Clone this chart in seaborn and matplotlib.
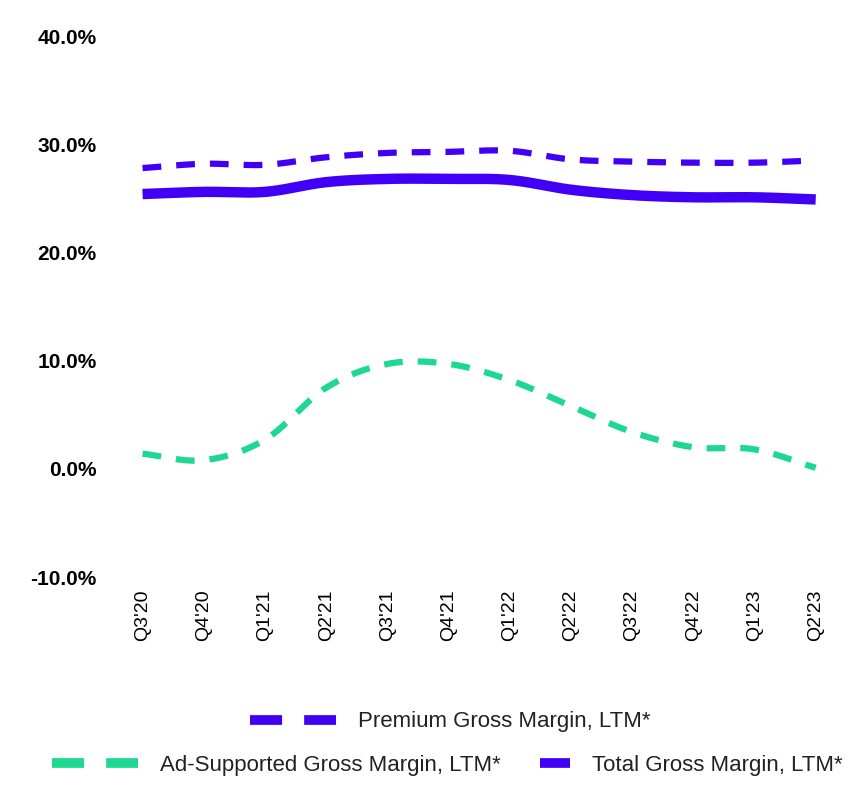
import numpy as np
import pandas as pd
import matplotlib
matplotlib.use("Agg")
import matplotlib.pyplot as plt
import seaborn as sns
from matplotlib.lines import Line2D

quarters = ["Q3'20", "Q4'20", "Q1'21", "Q2'21", "Q3'21", "Q4'21",
            "Q1'22", "Q2'22", "Q3'22", "Q4'22", "Q1'23", "Q2'23"]
premium = [27.8, 28.2, 28.1, 28.8, 29.2, 29.3, 29.4, 28.6, 28.4, 28.3, 28.3, 28.5]
ad_supported = [1.4, 0.8, 2.7, 7.5, 9.7, 9.7, 8.2, 5.8, 3.4, 2.0, 1.8, 0.1]
total = [25.4, 25.6, 25.6, 26.5, 26.8, 26.8, 26.7, 25.8, 25.3, 25.1, 25.1, 24.9]
yticks = [-10, 0, 10, 20, 30, 40]

PURPLE = "#4100F5"
GREEN = "#1ED891"


def smooth(y, steps=24):
    """Catmull-Rom spline through the data points (render-only smoothing)."""
    y = np.asarray(y, float)
    x = np.arange(len(y), dtype=float)
    P = np.concatenate([[2 * y[0] - y[1]], y, [2 * y[-1] - y[-2]]])
    xs, ys = [], []
    for i in range(len(y) - 1):
        p0, p1, p2, p3 = P[i], P[i + 1], P[i + 2], P[i + 3]
        t = np.linspace(0, 1, steps, endpoint=False)
        yy = 0.5 * ((2 * p1) + (-p0 + p2) * t + (2 * p0 - 5 * p1 + 4 * p2 - p3) * t ** 2
                    + (-p0 + 3 * p1 - 3 * p2 + p3) * t ** 3)
        xs.append(x[i] + t)
        ys.append(yy)
    xs.append([x[-1]])
    ys.append([y[-1]])
    return np.concatenate(xs), np.concatenate(ys)


sns.set_theme(style="white")
plt.rcParams["font.family"] = ["Liberation Sans", "DejaVu Sans"]

fig = plt.figure(figsize=(8.68, 8.02), dpi=100)
ax = fig.add_axes([0.129, 0.2805, 0.846, 0.6745])

series = [
    ("Premium Gross Margin, LTM*", premium, PURPLE, 4.5, (3.0, 2.4)),
    ("Ad-Supported Gross Margin, LTM*", ad_supported, GREEN, 4.5, (3.0, 2.4)),
    ("Total Gross Margin, LTM*", total, PURPLE, 7.5, None),
]
for name, vals, col, lw, dash in series:
    xs, ys = smooth(vals)
    df = pd.DataFrame({"x": xs, "y": ys})
    sns.lineplot(data=df, x="x", y="y", ax=ax, color=col, linewidth=lw,
                 estimator=None, sort=False)
    line = ax.lines[-1]
    if dash is not None:
        line.set_dashes(dash)
    line.set_solid_capstyle("butt")
    line.set_dash_capstyle("butt")

ax.set_xlim(-0.5, len(quarters) - 0.5)
ax.set_ylim(-10, 40)
ax.set_xticks(range(len(quarters)))
ax.set_xticklabels(quarters, rotation=90, fontsize=14, color="#000000")
ax.set_yticks(yticks)
ax.set_yticklabels([f"{v:.1f}%" for v in yticks], fontsize=15, fontweight="bold",
                   color="#000000")
ax.tick_params(axis="y", length=0, pad=11)
ax.tick_params(axis="x", length=0, pad=9)
ax.set_xlabel("")
ax.set_ylabel("")
for s in ax.spines.values():
    s.set_visible(False)
ax.grid(False)

legfont = {"size": 16}


def add_legend(label, color, dashed, x_left, y_center, hl):
    if dashed:
        h = Line2D([], [], color=color, linewidth=7, dashes=(3.3, 2.27),
                   dash_capstyle="butt")
    else:
        h = Line2D([], [], color=color, linewidth=7, solid_capstyle="butt")
    lg = fig.legend(handles=[h], labels=[label], loc="center left",
                    bbox_to_anchor=(x_left, y_center), frameon=False,
                    prop=legfont, handlelength=hl, handletextpad=1.0,
                    borderaxespad=0, borderpad=0)
    lg.get_texts()[0].set_color("#222222")
    return lg


add_legend("Premium Gross Margin, LTM*", PURPLE, True, 250 / 868, 1 - 722 / 802, 3.87)
add_legend("Ad-Supported Gross Margin, LTM*", GREEN, True, 52 / 868, 1 - 765 / 802, 3.87)
add_legend("Total Gross Margin, LTM*", PURPLE, False, 540 / 868, 1 - 765 / 802, 1.35)

fig.savefig("out.png", dpi=100, facecolor="white")
